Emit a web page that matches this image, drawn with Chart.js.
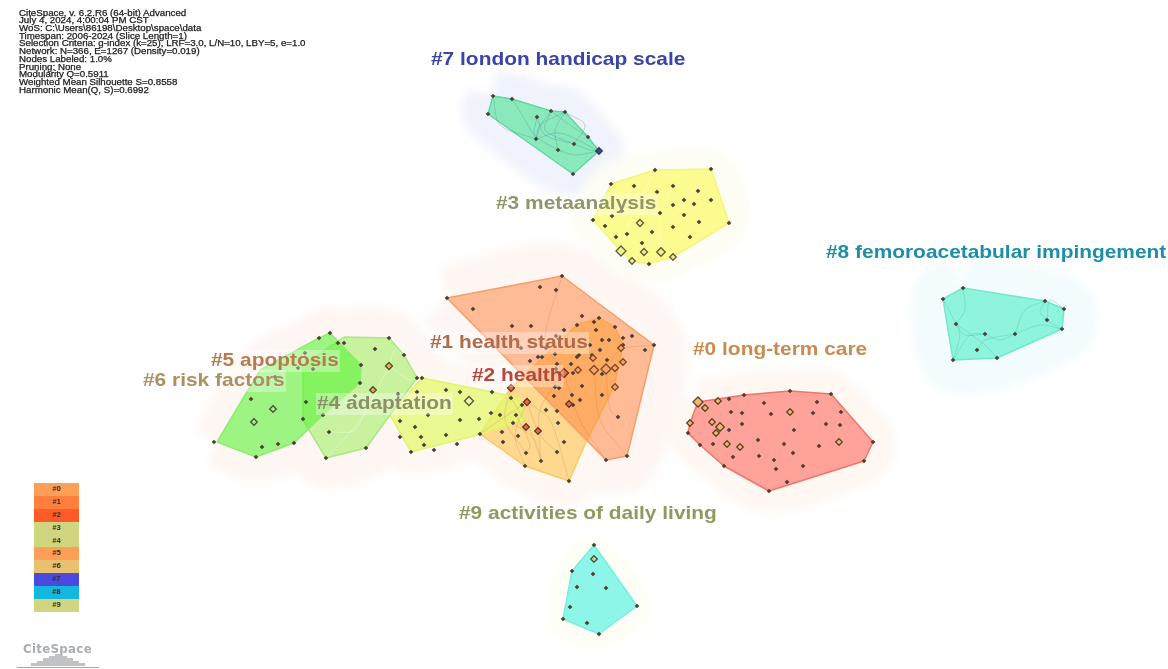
<!DOCTYPE html>
<html><head><meta charset="utf-8">
<script src="https://cdn.jsdelivr.net/npm/chart.js@4/dist/chart.umd.min.js"></script>
<style>
html,body{margin:0;padding:0;background:#fff;width:1168px;height:669px;overflow:hidden}
#wrap{position:relative;width:1168px;height:669px;filter:blur(0.55px);font-family:"Liberation Sans",Arial,sans-serif}
canvas{position:absolute;left:0;top:0}
#info{position:absolute;left:19px;top:9.5px;font-size:8.4px;line-height:7.73px;color:#222;white-space:pre;-webkit-text-stroke:.25px #222;transform:scaleX(1.16);transform-origin:left top}
#key{position:absolute;left:34px;top:483px;width:45px}
#key div{height:12.9px;line-height:12.9px;text-align:center;font-size:7.5px;font-weight:bold;color:#3a3020}
#logo{position:absolute;left:23px;top:642px;font-size:11.8px;font-weight:bold;color:#a9adb3;letter-spacing:.3px;font-family:"DejaVu Sans",sans-serif}
#logobars{position:absolute;left:17px;top:654px;width:82px;height:13px;border-bottom:1px solid #a4a8ae}
#logobars i{position:absolute;bottom:1px;background:#c0c2c6}
</style></head><body>
<div id="wrap">
<canvas id="c" width="1168" height="669"></canvas>
<div id="info"></div>
<div id="key"></div>
<div id="logo">CiteSpace</div>
<div id="logobars"></div>
</div>
<script>
const infoLines=["CiteSpace, v. 6.2.R6 (64-bit) Advanced","July 4, 2024, 4:00:04 PM CST","WoS: C:\\Users\\86198\\Desktop\\space\\data","Timespan: 2006-2024 (Slice Length=1)","Selection Criteria: g-index (k=25), LRF=3.0, L/N=10, LBY=5, e=1.0","Network: N=366, E=1267 (Density=0.019)","Nodes Labeled: 1.0%","Pruning: None","Modularity Q=0.5911","Weighted Mean Silhouette S=0.8558","Harmonic Mean(Q, S)=0.6992"];
const keyLabels=["#0","#1","#2","#3","#4","#5","#6","#7","#8","#9"];
const keyColors=["#ff9e57","#ff7f3f","#ff5a2a","#cfd67f","#cfd67f","#ff9e57","#e8c070","#4a4ae0","#12b8e0","#cfd67f"];

// cluster hulls
const hull0=[[698,402],[744,395],[790,391],[831,394],[873,442],[864,461],[769,491],[724,466],[700,445],[688,433],[690,423]];
const hull1=[[447,298],[562,276],[654,345],[627,456],[606,460]];
const hull2=[[480,434],[511,388],[577,325],[599,318],[615,327],[623,345],[614,387],[586,442],[569,481],[525,466]];
const hull3=[[655,170],[711,169],[729,223],[673,257],[649,264],[632,261],[621,251],[593,220],[611,184]];
const hull4=[[422,378],[492,392],[520,398],[525,420],[481,434],[411,452],[390,415]];
const hull5=[[344,337],[389,338],[404,355],[417,378],[390,415],[366,448],[326,458],[303,420],[303,365]];
const hull6=[[217,442],[260,370],[319,338],[330,333],[361,365],[360,383],[323,415],[294,443],[256,457]];
const hull7=[[493,96],[512,99],[551,111],[565,112],[588,137],[599,151],[573,174],[488,114]];
const hull8=[[963,288],[1045,301],[1064,309],[1062,329],[997,358],[953,360],[943,299]];
const hull9=[[594,545],[637,606],[599,634],[563,619],[572,571]];

// small nodes
const nodes0=[[729,399],[744,395],[790,391],[831,394],[764,403],[817,402],[731,412],[742,413],[771,414],[813,413],[841,412],[742,424],[729,430],[794,430],[826,424],[840,425],[688,433],[758,440],[873,442],[700,445],[713,444],[784,444],[819,446],[733,457],[759,456],[793,453],[774,460],[864,461],[724,466],[803,466],[776,469],[787,482],[769,491]];
const nodes1=[[562,276],[540,287],[556,290],[447,298],[473,309],[582,316],[599,318],[594,322],[577,325],[512,326],[531,326],[615,327],[564,330],[596,330],[556,336],[623,338],[632,336],[602,340],[609,340],[654,345],[590,345],[623,345],[546,348],[521,348],[600,350],[645,350],[555,354],[579,355],[577,357],[592,355],[538,357],[542,357],[607,360],[530,361],[557,364],[571,364],[573,373],[602,374],[556,369],[555,387],[559,388],[582,386],[602,395],[554,396],[572,395],[580,400],[573,405],[618,417],[606,460],[627,456]];
const nodes2=[[511,398],[522,405],[491,413],[500,415],[516,415],[546,410],[557,411],[513,423],[558,423],[502,432],[518,436],[480,434],[503,442],[564,442],[526,453],[557,452],[541,461],[525,466],[569,481]];
const nodes3=[[655,170],[711,169],[611,184],[634,186],[673,186],[657,192],[698,191],[684,200],[673,205],[694,204],[711,200],[622,211],[660,213],[612,216],[684,215],[593,220],[605,226],[699,222],[729,223],[673,227],[652,232],[627,234],[616,237],[690,237],[642,243],[649,264]];
const nodes4=[[417,378],[422,378],[446,390],[460,392],[417,392],[492,392],[428,415],[400,421],[460,420],[479,419],[415,427],[421,437],[400,437],[446,435],[424,445],[457,444],[434,450],[411,452]];
const nodes5=[[338,343],[344,343],[389,338],[375,349],[404,355],[361,365],[360,383],[355,396],[398,394],[329,432],[326,458],[366,448]];
const nodes6=[[319,338],[330,333],[305,353],[298,368],[313,369],[275,377],[251,399],[306,402],[323,415],[303,419],[294,443],[278,444],[262,447],[214,442],[256,457]];
const nodes7=[[493,96],[512,99],[488,114],[537,117],[551,111],[565,112],[588,137],[536,139],[574,144],[558,150],[573,174]];
const nodes8=[[963,288],[943,299],[1045,301],[1064,309],[1047,320],[956,324],[1062,329],[985,334],[1015,334],[977,350],[997,358],[953,360]];
const nodes9=[[594,545],[572,571],[593,574],[577,587],[606,588],[637,606],[570,607],[563,619],[587,623],[599,634]];

// larger, outlined nodes: x, y, marker radius
const keyNodes0=[[698,402,5],[718,401,3.3],[705,408,3.3],[790,412,3.3],[690,423,3.3],[712,422,3.3],[720,427,4.3],[716,433,3.3],[839,442,3.3],[727,444,3.3],[740,447,3.3]];
const keyNodes1=[[621,348,3.3],[593,358,3.3],[623,362,3.3],[578,370,3.3],[594,370,4.5],[606,369,5],[615,368,3.5],[615,387,3.3]];
const keyNodes2=[[564,373,4.5],[511,388,3.5],[527,402,3.5],[569,404,3.3],[526,427,3.3],[538,431,3.3]];
const keyNodes3=[[640,223,3.5],[621,251,5],[644,252,3.5],[661,252,4.3],[632,261,3.3],[673,257,3.3]];
const keyNodes4=[[469,401,4.5]];
const keyNodes5=[[389,366,3.5],[373,390,3.3]];
const keyNodes6=[[273,409,3.3],[254,422,3.3]];
const keyNodes7=[[599,151,3.3]];
const keyNodes9=[[594,559,3.3]];

// curved links: start, middle, end
const arcs7=[[[536,139],[541,125],[551,111]],[[537,117],[545,135],[574,144]],[[551,111],[570,125],[588,137]],[[565,112],[555,130],[558,150]],[[536,139],[560,133],[599,151]],[[493,96],[500,125],[536,139]],[[512,99],[525,120],[536,139]],[[574,144],[590,150],[599,151]],[[558,150],[575,155],[599,151]],[[565,112],[585,125],[574,144]],[[537,117],[535,135],[558,150]],[[551,111],[545,130],[574,144]],[[565,112],[540,125],[536,139]]];
const arcs8=[[[943,299],[950,312],[956,324]],[[956,324],[965,335],[985,334]],[[985,334],[1000,340],[1015,334]],[[1015,334],[1025,310],[1045,301]],[[963,288],[965,310],[956,324]],[[953,360],[970,335],[985,334]],[[953,360],[960,335],[956,324]],[[997,358],[985,345],[956,324]],[[1015,334],[1040,325],[1062,329]],[[1045,301],[1040,312],[1047,320]],[[1047,320],[1055,325],[1062,329]],[[977,350],[985,340],[1015,334]],[[1064,309],[1050,300],[1047,320]]];
const arcs1=[[[527,402],[515,435],[525,466]],[[527,402],[540,435],[557,452]],[[527,402],[500,420],[480,434]],[[511,388],[505,420],[526,453]],[[564,373],[540,410],[541,461]],[[564,373],[580,420],[606,460]],[[594,370],[600,420],[627,456]],[[606,369],[610,410],[618,417]],[[527,402],[550,420],[569,481]],[[511,398],[530,430],[541,461]],[[513,423],[535,440],[541,461]],[[516,415],[530,445],[526,453]],[[564,373],[545,340],[562,276]],[[606,369],[620,350],[654,345]]];
const arcs3=[[[621,251],[630,220],[655,170]],[[661,252],[660,215],[673,186]],[[644,252],[670,220],[711,169]]];
const arcs5=[[[389,366],[395,350],[404,355]],[[389,366],[360,420],[326,458]],[[389,366],[410,380],[417,378]],[[373,390],[355,430],[329,432]]];

const labels=[
 {t:"#7 london handicap scale",x:431,y:60,c:"#3a43a8"},
 {t:"#3 metaanalysis",x:496,y:204,c:"#91956a",box:1},
 {t:"#8 femoroacetabular impingement",x:826,y:253,c:"#1e8ea8"},
 {t:"#0 long-term care",x:693,y:350,c:"#c98b50"},
 {t:"#1 health status",x:430,y:343,c:"#b06a4c",box:1},
 {t:"#2 health",x:472,y:376,c:"#b5483c",box:1},
 {t:"#5 apoptosis",x:211,y:361,c:"#b87a4e",box:1},
 {t:"#6 risk factors",x:143,y:381,c:"#ad8f62",box:1},
 {t:"#4 adaptation",x:317,y:404,c:"#8c9066",box:1},
 {t:"#9 activities of daily living",x:459,y:514,c:"#8f9a5e"}
];

const pts=a=>a.map(p=>({x:p[0],y:p[1]}));
const closed=a=>pts(a.concat([a[0]]));
const arcPts=a=>{const o=[];a.forEach(s=>{s.forEach(p=>o.push({x:p[0],y:p[1]}));o.push({x:NaN,y:NaN});});return o;};

const sets=[];
const halo=(h,c,w)=>sets.push({soft:true,data:closed(h),showLine:true,fill:'shape',backgroundColor:c,borderColor:c,borderWidth:w,borderJoinStyle:'round',pointRadius:0,tension:.3});
const poly=(h,f,b)=>sets.push({data:closed(h),showLine:true,fill:'shape',backgroundColor:f,borderColor:b,borderWidth:1.5,borderJoinStyle:'round',pointRadius:0,tension:0});
const arcs=(a,c)=>sets.push({data:arcPts(a),showLine:true,fill:false,borderColor:c,borderWidth:.7,pointRadius:0,tension:.3,spanGaps:false});
const dots=(n)=>sets.push({data:pts(n),showLine:false,pointStyle:'rectRot',pointRadius:2.1,pointBackgroundColor:'#4a4034',pointBorderColor:'#4a4034',pointBorderWidth:.5});
const keys=(n,f,b)=>sets.push({data:pts(n),showLine:false,pointStyle:'rectRot',pointRadius:n.map(p=>p[2]),pointBackgroundColor:f,pointBorderColor:b,pointBorderWidth:1.3});

halo(hull1,'#fef6f2',64);
halo(hull2,'#fef7f3',50);
halo(hull4,'#fef7f3',44);
halo(hull5,'#fef6f2',58);
halo(hull6,'#fef6f2',50);
halo(hull0,'#fef7f2',44);
halo(hull7,'#f1f3fc',50);
halo(hull8,'#f2fbfd',62);
halo(hull3,'#fdfdf4',40);
halo(hull9,'#fefef6',30);

poly(hull0,'rgba(255,140,130,.78)','#f0746c');
poly(hull2,'rgba(252,200,90,.66)','#f8cb60');
poly(hull1,'rgba(255,128,55,.5)','#f89e66');
poly(hull4,'rgba(228,248,110,.75)','#e2f36a');
poly(hull5,'rgba(175,240,120,.68)','#a8ea80');
poly(hull6,'rgba(80,242,45,.56)','#90ec70');
poly(hull3,'rgba(250,250,110,.75)','#f4f47e');
poly(hull7,'rgba(112,230,170,.8)','#5fd8a2');
poly(hull8,'rgba(115,242,210,.78)','#72e8cc');
poly(hull9,'rgba(110,243,228,.78)','#76efe0');

arcs(arcs1,'rgba(170,100,50,.28)');
arcs(arcs3,'rgba(255,255,255,.45)');
arcs(arcs5,'rgba(255,255,255,.45)');
arcs(arcs7,'rgba(70,130,150,.42)');
arcs(arcs8,'rgba(70,190,180,.5)');

[nodes0,nodes1,nodes2,nodes3,nodes4,nodes5,nodes6,nodes7,nodes8,nodes9].forEach(dots);
keys(keyNodes0,'#f6b678','#5c4626');
keys(keyNodes1,'#f9a468','#7a4a2c');
keys(keyNodes2,'#ee6a44','#6a3424');
keys(keyNodes3,'#f4f08a','#5c5c38');
keys(keyNodes4,'#eef79a','#55583a');
keys(keyNodes5,'#e6b060','#5a4624');
keys(keyNodes6,'#b4ee90','#4a5030');
keys(keyNodes7,'#3a4a8a','#30386a');
keys(keyNodes9,'#c6d8a0','#4a5040');

sets.forEach((d,i)=>{d.order=sets.length-i;});

const softPlugin={id:'softPlugin',
  beforeDatasetDraw(chart,args){if(chart.data.datasets[args.index].soft){chart.ctx.save();chart.ctx.filter='blur(5px)';}},
  afterDatasetDraw(chart,args){if(chart.data.datasets[args.index].soft){chart.ctx.restore();}}
};
const labelPlugin={id:'labelPlugin',afterDatasetsDraw(chart){
  const ctx=chart.ctx,xs=chart.scales.x,ys=chart.scales.y,stretch=1.1;
  labels.forEach(l=>{
    ctx.save();
    ctx.font='bold 19px "Liberation Sans", Arial, sans-serif';
    ctx.textBaseline='middle';ctx.textAlign='left';
    ctx.translate(xs.getPixelForValue(l.x),ys.getPixelForValue(l.y));
    ctx.scale(stretch,1);
    const w=ctx.measureText(l.t).width;
    if(l.box){ctx.fillStyle='rgba(255,255,255,.34)';ctx.fillRect(-1,-11,w+2,22);}
    ctx.fillStyle=l.c;ctx.fillText(l.t,0,0);
    ctx.restore();
  });
}};

new Chart(document.getElementById('c'),{
  type:'scatter',
  data:{datasets:sets},
  options:{
    responsive:false,animation:false,events:[],
    layout:{padding:0,autoPadding:false},
    plugins:{legend:{display:false},tooltip:{enabled:false},title:{display:false}},
    scales:{
      x:{type:'linear',min:0,max:1168,display:false},
      y:{type:'linear',min:0,max:669,reverse:true,display:false}
    }
  },
  plugins:[softPlugin,labelPlugin]
});

document.getElementById('info').textContent=infoLines.join("\n");
const key=document.getElementById('key');
keyLabels.forEach((t,i)=>{const d=document.createElement('div');d.textContent=t;d.style.background=keyColors[i];key.appendChild(d);});
const logoHeights=[3,5,8,10,12,10,8,5,3];
const lb=document.getElementById('logobars');
logoHeights.forEach((h,i)=>{const e=document.createElement('i');e.style.left=(14+i*6)+'px';e.style.width='5.5px';e.style.height=h+'px';lb.appendChild(e);});
</script>
</body></html>
